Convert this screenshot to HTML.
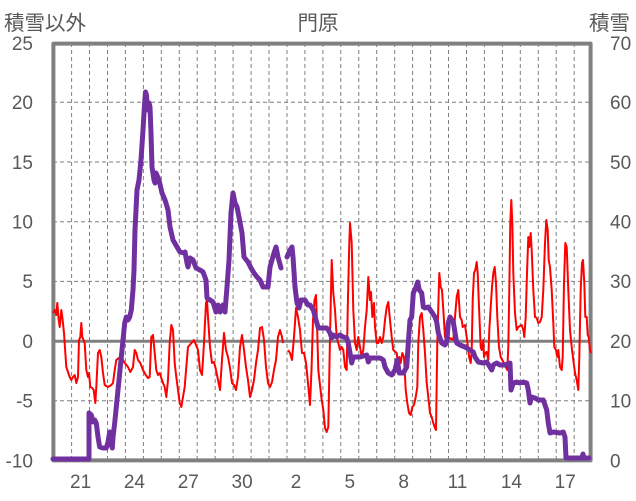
<!DOCTYPE html>
<html><head><meta charset="utf-8"><style>
html,body{margin:0;padding:0;background:#fff;}
svg{display:block;}
text{font-family:"Liberation Sans","Noto Sans CJK JP",sans-serif;fill:#595959;}
.t{font-size:20.5px;}
.n{font-size:19px;}
</style></head><body>
<svg width="636" height="501" viewBox="0 0 636 501" xmlns="http://www.w3.org/2000/svg">
<rect width="636" height="501" fill="#fff"/>
<g stroke="#7f7f7f" stroke-width="1" stroke-dasharray="4 3" fill="none">
<line x1="53" y1="102.3" x2="591" y2="102.3"/>
<line x1="53" y1="162" x2="591" y2="162"/>
<line x1="53" y1="221.7" x2="591" y2="221.7"/>
<line x1="53" y1="281.4" x2="591" y2="281.4"/>
<line x1="53" y1="400.8" x2="591" y2="400.8"/>
<line x1="71.6" y1="43" x2="71.6" y2="460"/>
<line x1="89.5" y1="43" x2="89.5" y2="460"/>
<line x1="107.5" y1="43" x2="107.5" y2="460"/>
<line x1="125.4" y1="43" x2="125.4" y2="460"/>
<line x1="143.4" y1="43" x2="143.4" y2="460"/>
<line x1="161.3" y1="43" x2="161.3" y2="460"/>
<line x1="179.3" y1="43" x2="179.3" y2="460"/>
<line x1="197.2" y1="43" x2="197.2" y2="460"/>
<line x1="215.2" y1="43" x2="215.2" y2="460"/>
<line x1="233.1" y1="43" x2="233.1" y2="460"/>
<line x1="251.1" y1="43" x2="251.1" y2="460"/>
<line x1="269" y1="43" x2="269" y2="460"/>
<line x1="287" y1="43" x2="287" y2="460"/>
<line x1="304.9" y1="43" x2="304.9" y2="460"/>
<line x1="322.9" y1="43" x2="322.9" y2="460"/>
<line x1="340.8" y1="43" x2="340.8" y2="460"/>
<line x1="358.8" y1="43" x2="358.8" y2="460"/>
<line x1="376.7" y1="43" x2="376.7" y2="460"/>
<line x1="394.7" y1="43" x2="394.7" y2="460"/>
<line x1="412.6" y1="43" x2="412.6" y2="460"/>
<line x1="430.6" y1="43" x2="430.6" y2="460"/>
<line x1="448.5" y1="43" x2="448.5" y2="460"/>
<line x1="466.5" y1="43" x2="466.5" y2="460"/>
<line x1="484.4" y1="43" x2="484.4" y2="460"/>
<line x1="502.4" y1="43" x2="502.4" y2="460"/>
<line x1="520.3" y1="43" x2="520.3" y2="460"/>
<line x1="538.3" y1="43" x2="538.3" y2="460"/>
<line x1="556.2" y1="43" x2="556.2" y2="460"/>
<line x1="574.2" y1="43" x2="574.2" y2="460"/>
</g>
<line x1="53" y1="341.2" x2="591" y2="341.2" stroke="#808080" stroke-width="3"/>
<rect x="53.4" y="43.6" width="537.2" height="416.8" fill="none" stroke="#808080" stroke-width="4" stroke-linejoin="round"/>
<g fill="none" stroke="#ff0000" stroke-width="2" stroke-linejoin="round">
<polyline points="53,313 54.7,310 56.3,315 57.3,303 58.7,320 59.7,327 61.3,310 62.3,317 64,333 66.3,367 68,372 69.7,377 71.3,380 73,377 74.7,375 76.3,383 78,377 79,340 80.3,337 81.3,323 82.3,337 84.7,343 86.3,370 88,377 89,373 90.3,387 92.3,388 93.7,390 95.3,403 96.3,387 98,353 99.7,350 101.3,357 103,373 104.7,385 108,387 111.3,385 113,383 114.7,370 116.3,360 118.7,358 121.3,362 123,360 124.7,363 128,367 130.3,372 133,367 134.7,350 136.3,353 138,360 140.3,363 143,370 145.7,375 148,378 149.7,377 151.3,337 153,335 154.7,353 156.3,370 158,375 159.7,373 161.3,378 163,383 164.7,387 166.3,397 168,380 169.7,343 171.3,325 173,330 174.7,363 176.3,377 178,390 179.7,403 181.3,407 183,397 184.7,387 186.3,367 188,347 189.7,345 192.3,342 194,340 196,345 198,350 200,370 202,375 204,343 206,303 207,300 208,317 210,347 212,363 214,362 216,370 218,380 220,390 222,360 224,333 226,350 228,357 230,368 232,383 234,385 236,390 238,377 240,347 242,335 244,350 246,367 248,380 250,397 252,390 254,380 256,363 258,350 260,328 262,327 264,340 266,367 268,383 270,387 272,382 274,370 276,360 278,337 280,330 282,337 283,343"/>
<polyline points="288,350 290,353 292,360 294,337 296,308 298,317 300,330 302,353 304,353 306,363 308,383 310,405 311.5,370 313,320 314.5,300 316,295 317,323 318.3,370 321.7,400 323.3,410 325,428 326.7,432 328.3,427 330,337 331.7,260 333.3,293 335,310 336.7,337 338.3,343 340,350 341.7,347 343.3,350 345,367 346.7,370 347.7,310 349.3,243 350,223 351.7,243 353.3,310 355,343 356.7,350 358.3,337 360,347 361.7,357 363.3,350 365,327 366.7,310 368.3,277 370,300 371,292 372.3,317 374,303 375,327 376.7,343 378.3,343 380,337 381.7,343 383.3,337 385,320 386.7,307 388.3,302 390,320 391.7,337 393.3,350 396.7,353 397.7,363 399.3,357 400.7,363 402.3,353 404,357 405.7,390 407.3,403 409,413 410.7,415 412.3,407 414,405 415.7,397 417.3,387 418.3,343 420,317 421.7,313 423.3,330 425,353 426.7,383 428.3,397 430,413 431.7,417 433.3,423 435,428 436,430 437.3,343 438.7,293 439.3,273 440.7,287 442,290 443.3,310 445,337 446.7,337 448.3,340 450,338 453.3,340 455,317 456.7,297 458.3,290 460,317 461.7,320 462.7,327 465,325 466.7,337 468.3,350 469.3,358 470.7,363 471.7,350 472.7,300 474,273 475.3,270 476.7,262 477.7,273 479,307 480.7,347 481.7,350 483.3,340 484,357 485.3,353 486.7,352 488.3,360 489.3,330 490.7,307 492,287 493.3,273 494.7,267 496,283 497.3,317 499,347 500.7,357 502.3,360 504,363 505.7,367 507.3,370 508.3,347 509.3,290 510.3,223 511.3,200 512.3,223 513.3,273 515,313 516.7,330 518.3,327 521.7,325 523.3,330 524.3,337 525.7,317 527,273 528.3,237 529.3,247 530.7,233 531.7,250 533.3,290 535,317 536.7,318 538.3,323 540,322 541.7,317 543.3,290 545,243 546.3,220 547.7,230 548.7,260 550,267 551.7,290 553.3,323 554.3,347 556,350 557.3,357 558.3,350 560,367 561.7,370 562.7,357 564,283 565.3,243 566.7,247 568.3,290 570,330 571.7,347 573.3,360 575,373 576.7,380 578.3,390 579.3,357 580.7,290 582,263 583,260 584.3,283 585.3,317 586.7,317 587.7,335 588.7,337 590,350 591,353"/>
</g>
<g fill="none" stroke="#7030a0" stroke-width="5" stroke-linejoin="round" stroke-linecap="round">
<polyline points="53,459 89,459 89,413 91.3,415 93,422 94.7,420 96.3,423 98,437 99.7,447 103,448 106.3,448 108,442 109.7,432 110.7,443 112.3,448 113,437 114.7,423 116.3,407 118,390 119.7,373 121.3,357 123,340 124.7,323 126.3,317 128,320 129.7,317 131.3,310 133,290 134,270 135,230 137,190 139,180 141,160 143,130 144.5,105 145.5,92 146.5,95 147,103 148,110 149,103 150,107 151,133 152,167 154,180 155,183 156,173 159,180 162,193 165,200 168,210 170,227 173,240 177,247 180,252 184,253 185,252 187,263 188,267 190,258 193,260 196,268 200,270 203,272 206,280 207,298 210,300 213,302 216,312 218,305 220,312 223,305 225,312 227,287 229,260 231,213 233,193 235,203 237,207 239,217 242,233 244,257 248,262 251,268 254,273 257,277 260,280 263,287 268,287 270,267 272,260 274,253 276,247 278,257 281,268"/>
<polyline points="287,257 290,250 292,247 293,257 295,287 297,303 299,308 301,300 305,300 308,305 310,305 313.3,310 316,320 318.3,328 321.7,328 326.7,328 328.3,330 330,333 331.7,338 333.3,335 336.7,337 340,335 343.3,337 346.7,338 348.3,343 350,353 351.7,363 353.3,357 360,357 366.7,355 368.3,362 370,358 380,358 383.3,360 385,367 388.3,373 391.7,375 395,370 397.3,360 399.3,373 403.3,373 406.7,367 408.3,343 410,320 411.7,317 413.3,293 416,287 417.7,282 419.3,290 421.7,293 423.3,307 425,308 428.3,307 431.7,312 435,317 436.7,322 438.3,333 441.7,343 445,345 446.7,342 448.3,323 450,317 453.3,322 456.7,343 460,345 465,347 470,350 473.3,352 475,357 478.3,362 483.3,363 486.7,362 490,367 491.7,370 493.3,365 496.7,363 500,365 505,365 510,363 511,390 513.3,383 516.7,382 520,383 523.3,382 526.7,383 528.3,390 530,403 531.7,397 535,398 538.3,400 543.3,400 546.7,410 548.3,423 550,433 553.3,432 560,433 563.3,432 565,437 566,458 582,458 583,454 584,458 589,458"/>
</g>
<text class="t" x="4" y="30">積雪以外</text>
<text class="t" x="318" y="30" text-anchor="middle">門原</text>
<text class="t" x="630" y="30" text-anchor="end">積雪</text>
<g class="n" text-anchor="end">
<text class="n" x="33" y="49.8">25</text>
<text class="n" x="33" y="109.1">20</text>
<text class="n" x="33" y="168.8">15</text>
<text class="n" x="33" y="228.5">10</text>
<text class="n" x="33" y="288.2">5</text>
<text class="n" x="33" y="348">0</text>
<text class="n" x="33" y="407.6">-5</text>
<text class="n" x="33" y="467.3">-10</text>
</g>
<g text-anchor="start">
<text class="n" x="610" y="49.8">70</text>
<text class="n" x="610" y="109.1">60</text>
<text class="n" x="610" y="168.8">50</text>
<text class="n" x="610" y="228.5">40</text>
<text class="n" x="610" y="288.2">30</text>
<text class="n" x="610" y="348">20</text>
<text class="n" x="610" y="407.6">10</text>
<text class="n" x="610" y="467.3">0</text>
</g>
<g text-anchor="middle">
<text class="n" x="80.6" y="488">21</text>
<text class="n" x="134.4" y="488">24</text>
<text class="n" x="188.3" y="488">27</text>
<text class="n" x="242.1" y="488">30</text>
<text class="n" x="296" y="488">2</text>
<text class="n" x="349.8" y="488">5</text>
<text class="n" x="403.7" y="488">8</text>
<text class="n" x="457.5" y="488">11</text>
<text class="n" x="511.4" y="488">14</text>
<text class="n" x="565.2" y="488">17</text>
</g>
</svg>
</body></html>
